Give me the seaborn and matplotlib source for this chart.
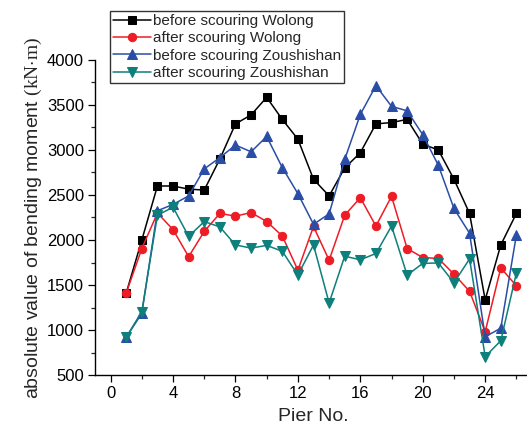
import matplotlib
matplotlib.use("Agg")
import matplotlib.pyplot as plt
from matplotlib.ticker import MultipleLocator
import seaborn as sns
import pandas as pd

sns.set_style("ticks")
plt.rcParams["font.family"] = ["Liberation Sans", "DejaVu Sans"]
plt.rcParams["mathtext.fontset"] = "custom"
plt.rcParams["mathtext.rm"] = "Liberation Serif"

piers = list(range(1, 27))
before_wolong = [1410, 2000, 2600, 2600, 2565, 2555, 2900, 3290, 3390, 3585,
                 3340, 3120, 2675, 2490, 2800, 2970, 3290, 3305, 3340, 3065,
                 3000, 2675, 2295, 1335, 1945, 2295]
after_wolong = [1410, 1905, 2300, 2115, 1815, 2095, 2295, 2265, 2305, 2205,
                2045, 1665, 2150, 1775, 2275, 2470, 2155, 2485, 1905, 1805,
                1795, 1620, 1430, 980, 1690, 1490]
before_zoushishan = [920, 1185, 2325, 2395, 2490, 2790, 2915, 3055, 2980, 3150,
                     2805, 2515, 2175, 2290, 2895, 3395, 3715, 3485, 3435, 3170,
                     2830, 2350, 2075, 925, 1020, 2055]
after_zoushishan = [920, 1205, 2275, 2365, 2040, 2205, 2145, 1945, 1910, 1940,
                    1875, 1610, 1945, 1300, 1820, 1780, 1850, 2155, 1610, 1740,
                    1745, 1525, 1790, 705, 880, 1635]

series = [
    ("before scouring Wolong", before_wolong, "#000000", "s", 5.5),
    ("after scouring Wolong", after_wolong, "#ee1c25", "o", 6.0),
    ("before scouring Zoushishan", before_zoushishan, "#2a4ea6", "^", 6.8),
    ("after scouring Zoushishan", after_zoushishan, "#0e7f7a", "v", 6.8),
]

fig = plt.figure(figsize=(5.27, 4.34), dpi=100)
ax = fig.add_axes([95 / 527, 1 - 375 / 434, 437 / 527, 315 / 434])

for label, values, color, marker, msize in series:
    df = pd.DataFrame({"Pier": piers, "Moment": values})
    sns.lineplot(data=df, x="Pier", y="Moment", ax=ax, color=color,
                 marker=marker, markersize=msize, markeredgecolor=color,
                 linewidth=1.1, label=label, legend=False)

ax.set_xlim(-1, 27)
ax.set_ylim(500, 4000)
ax.xaxis.set_major_locator(MultipleLocator(4))
ax.xaxis.set_minor_locator(MultipleLocator(2))
ax.yaxis.set_major_locator(MultipleLocator(500))
ax.yaxis.set_minor_locator(MultipleLocator(250))
ax.tick_params(which="major", direction="out", length=5, width=0.9,
               labelsize=12, colors="black", pad=3)
ax.tick_params(which="minor", direction="out", length=3, width=0.9)

for side in ("top", "right"):
    ax.spines[side].set_visible(False)
for side in ("left", "bottom"):
    ax.spines[side].set_linewidth(1.0)
    ax.spines[side].set_color("black")

ax.set_xlabel("Pier No.", fontsize=14, labelpad=5)
ax.set_ylabel(r"absolute value of bending moment $(\mathrm{kN{\cdot}m})$",
              fontsize=14, labelpad=2)

handles, labels = ax.get_legend_handles_labels()
leg = fig.legend(handles, labels, loc="upper left",
                 bbox_to_anchor=(110 / 527, 1 - 11 / 434),
                 bbox_transform=fig.transFigure, frameon=True, fancybox=False,
                 edgecolor="#333333", framealpha=1, fontsize=11,
                 handlelength=2.5, handletextpad=0.1, labelspacing=0.22,
                 borderpad=0.2, borderaxespad=0)
leg.get_frame().set_linewidth(1.0)

fig.savefig("out.png", dpi=100)
